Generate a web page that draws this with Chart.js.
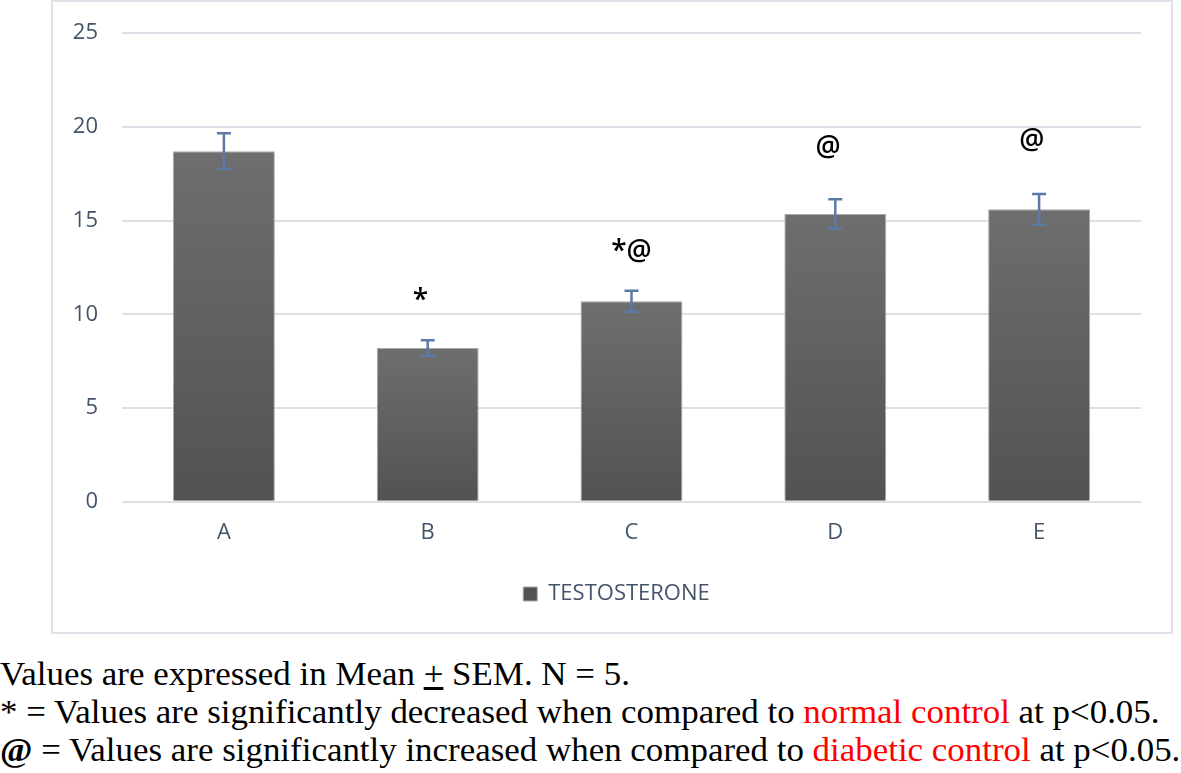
<!DOCTYPE html>
<html>
<head>
<meta charset="utf-8">
<script src="https://cdn.jsdelivr.net/npm/chart.js@4/dist/chart.umd.min.js"></script>
<style>
body { margin: 0; background: #fff; width: 1181px; height: 773px; position: relative; overflow: hidden; }
#box { position: absolute; left: 51px; top: 0; width: 1122px; height: 634px; border: 2px solid #dfe3e9; box-sizing: border-box; }
#myCanvas { position: absolute; left: 0; top: 0; }
#notes { position: absolute; left: 0; top: 655px; font-family: "Liberation Serif", "Times New Roman", serif; font-size: 33px; line-height: 38px; color: #000; white-space: nowrap; transform: scaleX(1.058); transform-origin: 0 0; }
.red { color: #ff0000; }
</style>
</head>
<body>
<div id="box"></div>
<canvas id="myCanvas" width="1181" height="640"></canvas>
<div id="notes">
  <div>Values are expressed in Mean <u>+</u> SEM. N = 5.</div>
  <div>* = Values are significantly decreased when compared to <span class="red">normal control</span> at p&lt;0.05.</div>
  <div><b>@</b> = Values are significantly increased when compared to <span class="red">diabetic control</span> at p&lt;0.05.</div>
</div>
<script>
// data
var groups = ['A', 'B', 'C', 'D', 'E'];
var testosterone = [18.7, 8.2, 10.7, 15.35, 15.6];
var sem = [0.95, 0.42, 0.56, 0.78, 0.82];
var marks = ['', '*  ', '*@', '@  ', '@  '];
var markAt = [null, 11.1, 13.4, 18.9, 19.3];
var yTicks = [0, 5, 10, 15, 20, 25];

var axisFont = { family: 'Open Sans', size: 22 };
var textColor = '#44546a';

// each bar gets its own light-to-dark vertical gradient
function barFill(c) {
    var chart = c.chart;
    if (c.type !== 'data' || !chart.scales.y) return '#5f5f5f';
    var y = chart.scales.y;
    var top = y.getPixelForValue(testosterone[c.dataIndex]);
    var bot = y.getPixelForValue(0);
    if (!isFinite(top) || !isFinite(bot) || top === bot) return '#5f5f5f';
    var g = chart.ctx.createLinearGradient(0, top, 0, bot);
    g.addColorStop(0, '#6e6e6e');
    g.addColorStop(1, '#525252');
    return g;
}

// legend sits centred on the whole box in the original, not on the plot
var legendShift = {
    id: 'legendShift',
    afterLayout: function (chart) {
        chart.legend.left += 20;
        chart.legend.right += 20;
    }
};

var errorBars = {
    id: 'errorBars',
    afterDatasetsDraw: function (chart) {
        var c = chart.ctx, y = chart.scales.y, meta = chart.getDatasetMeta(0);
        c.save();
        c.strokeStyle = '#5b7aa6';
        c.lineWidth = 2.5;
        meta.data.forEach(function (bar, i) {
            var top = y.getPixelForValue(testosterone[i] + sem[i]);
            var bot = y.getPixelForValue(testosterone[i] - sem[i]);
            c.beginPath();
            c.moveTo(bar.x, top); c.lineTo(bar.x, bot);
            c.moveTo(bar.x - 7, top); c.lineTo(bar.x + 7, top);
            c.moveTo(bar.x - 7, bot); c.lineTo(bar.x + 7, bot);
            c.stroke();
        });
        // significance marks
        c.fillStyle = '#000';
        c.font = '600 28px "Open Sans"';
        c.textAlign = 'center';
        c.textBaseline = 'alphabetic';
        meta.data.forEach(function (bar, i) {
            if (!marks[i]) return;
            var tm = c.measureText(marks[i]);
            var cy = y.getPixelForValue(markAt[i]);
            c.fillText(marks[i], bar.x, cy + (tm.actualBoundingBoxAscent - tm.actualBoundingBoxDescent) / 2);
        });
        c.restore();
    }
};

let myChart = document.getElementById('myCanvas').getContext('2d');
let massPopChart = new Chart(myChart, {
    type: 'bar',
    data: {
        labels: groups,
        datasets: [{
            label: 'TESTOSTERONE',
            data: testosterone,
            backgroundColor: barFill,
            borderColor: '#a9a9a9',
            borderWidth: 1,
            barPercentage: 0.5,
            categoryPercentage: 1
        }]
    },
    options: {
        responsive: false,
        animation: false,
        layout: { padding: { left: 52, right: 40, top: 33, bottom: 25 } },
        plugins: {
            tooltip: { enabled: false },
            legend: {
                position: 'bottom',
                labels: { font: axisFont, color: textColor, boxWidth: 14, boxHeight: 14, padding: 36.5 }
            }
        },
        scales: {
            x: {
                afterFit: function (s) { s.height = 44.7; },
                grid: { display: false, drawTicks: false },
                border: { display: false },
                ticks: { padding: 18, color: textColor, font: axisFont }
            },
            y: {
                min: 0,
                max: 25,
                afterBuildTicks: function (s) { s.ticks = yTicks.map(function (v) { return { value: v }; }); },
                afterFit: function (s) { s.width = 70; },
                // invisible tick marks keep the labels 24px off the plot
                grid: { color: '#dde1e7', lineWidth: 2, drawTicks: true, tickLength: 24, tickColor: 'rgba(0,0,0,0)' },
                border: { display: false },
                ticks: { padding: 0, color: textColor, font: axisFont }
            }
        }
    },
    plugins: [errorBars, legendShift]
});
</script>
</body>
</html>
